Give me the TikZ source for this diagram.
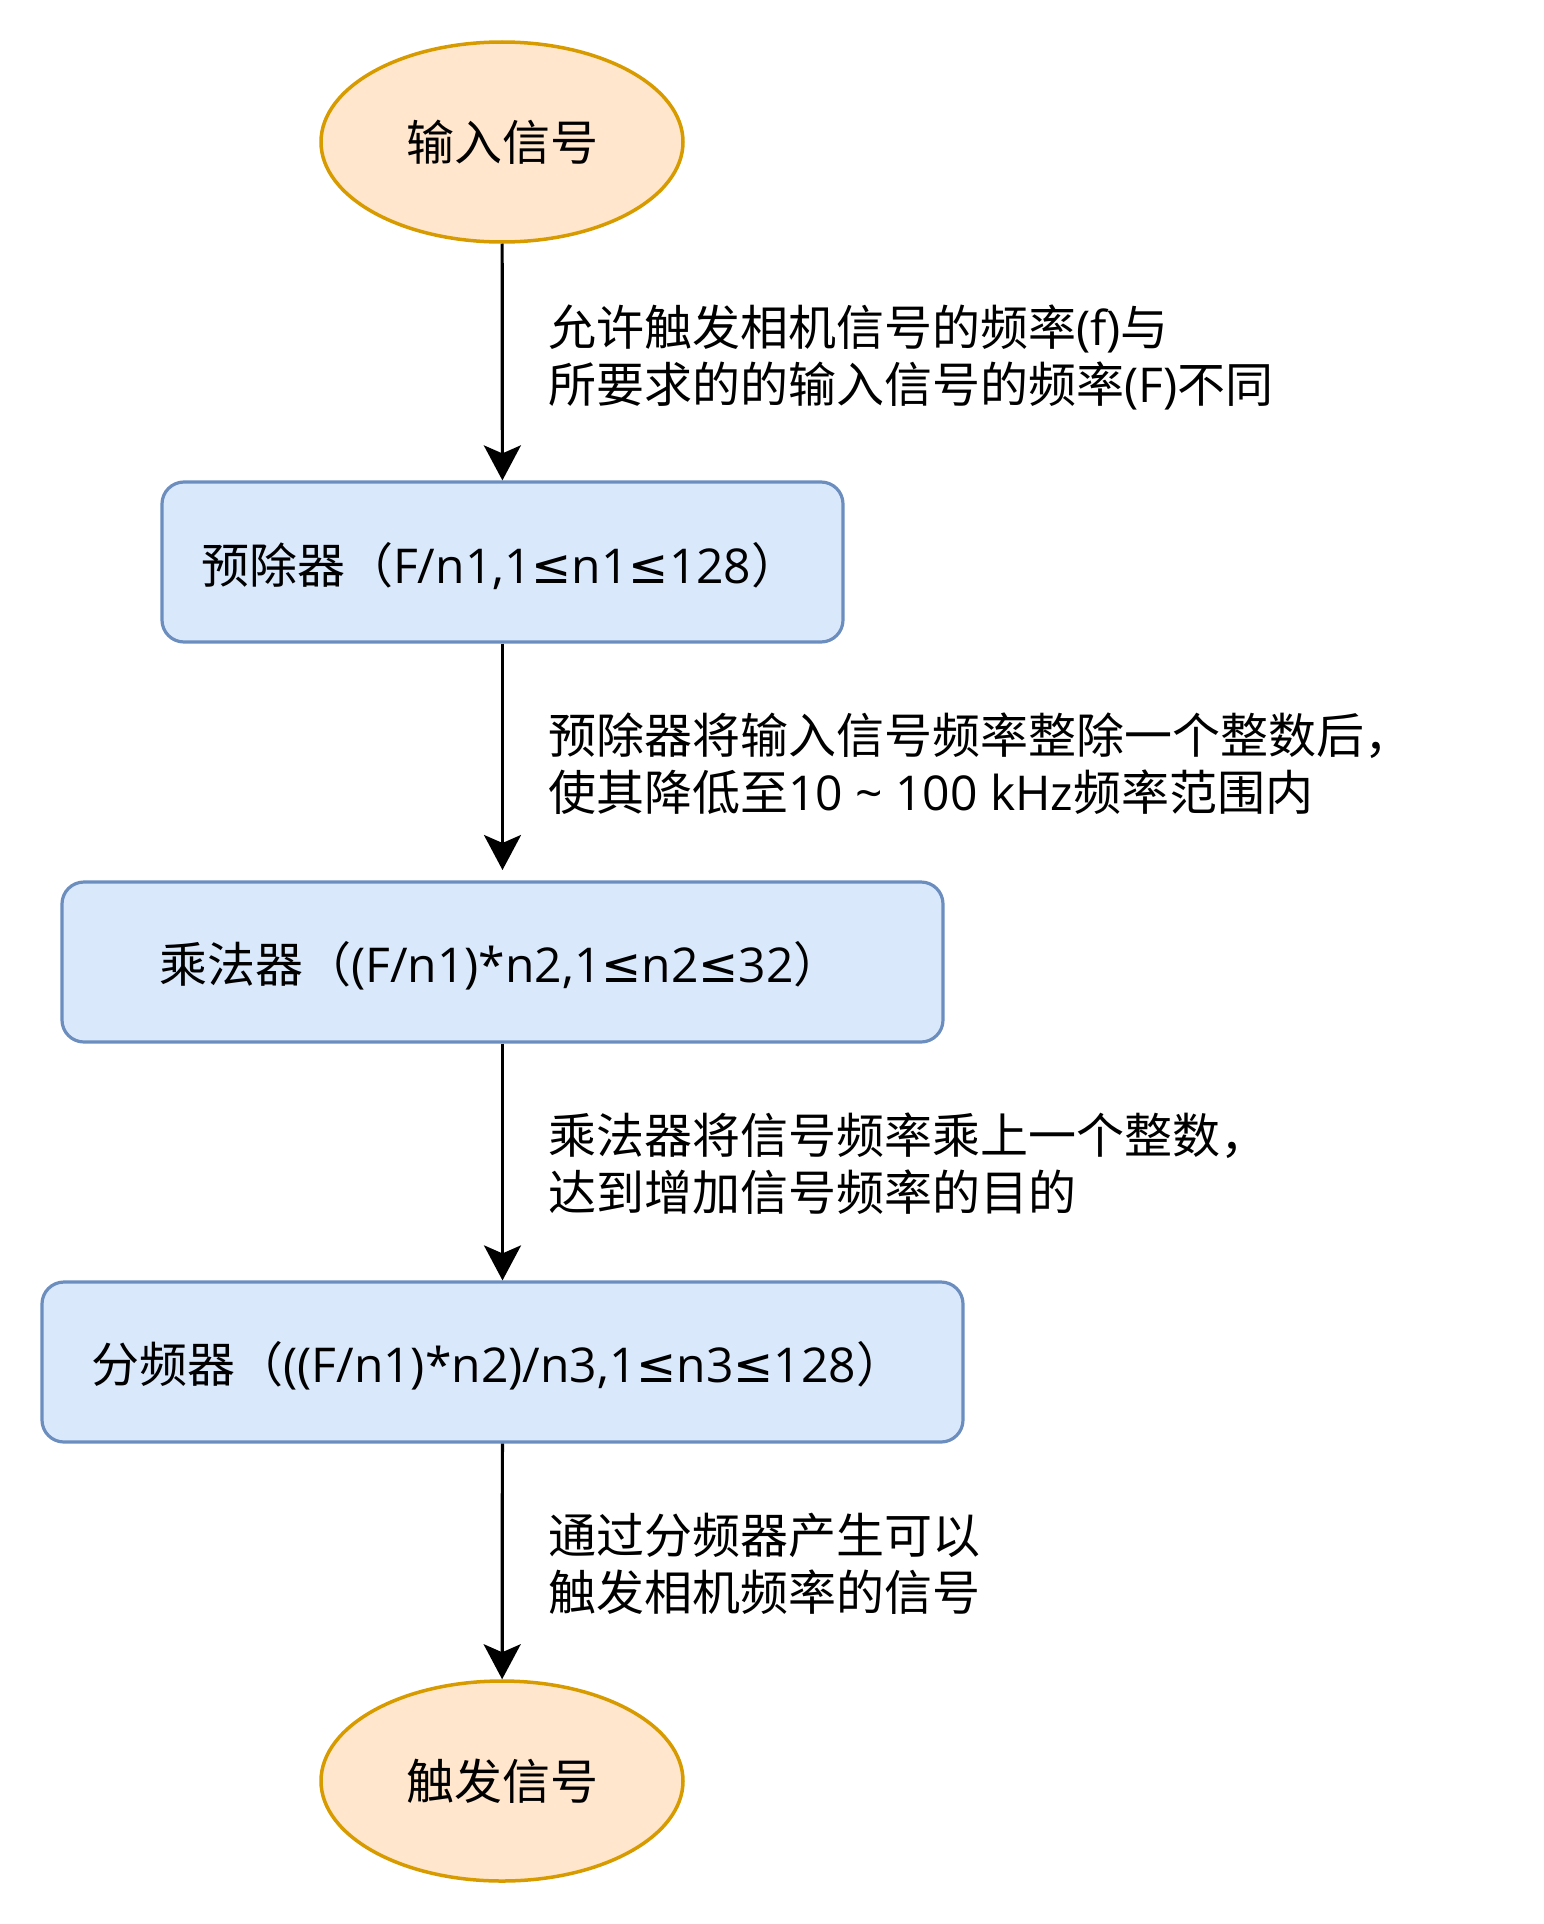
\documentclass[tikz,border=0pt]{standalone}
\usepackage{fontspec}
\setmainfont{Noto Sans CJK SC}
\newfontfamily\latinfont{Open Sans}
\newfontfamily\symfont{DejaVu Sans}
\newcommand\latn[1]{{\latinfont #1}}
\newcommand\lesym{{\symfont ≤}}
\usetikzlibrary{shapes.geometric,arrows.meta}
\definecolor{termfill}{HTML}{FFE6CC}
\definecolor{termdraw}{HTML}{D79B00}
\definecolor{boxfill}{HTML}{DAE8FC}
\definecolor{boxdraw}{HTML}{6C8EBF}
\begin{document}
\begin{tikzpicture}[x=1pt,y=-1pt,
  term/.style={ellipse,draw=termdraw,fill=termfill,line width=3.5pt,minimum width=362pt,minimum height=200pt,inner sep=0pt,font=\fontsize{48}{57}\selectfont},
  procbox/.style={rectangle,rounded corners=22pt,draw=boxdraw,fill=boxfill,line width=3.2pt,minimum height=160pt,inner sep=0pt},
  boxtext/.style={anchor=west,inner sep=0pt,font=\fontsize{48}{57}\selectfont},
  lbl/.style={anchor=west,align=left,inner sep=0pt,font=\fontsize{48}{57}\selectfont},
  arr/.style={draw=black,line width=3.2pt,-{Stealth[length=35pt,width=37pt,inset=8pt]}}]
\useasboundingbox (0,0) rectangle (1544,1924);
\node[term] (in) at (502,142) {输入信号};
\node[procbox,minimum width=681pt] (b1) at (502.5,562) {};
\node[procbox,minimum width=881pt] (b2) at (502.5,962) {};
\node[procbox,minimum width=921pt] (b3) at (502.5,1362) {};
\node[term] (out) at (502,1781) {触发信号};
\node[boxtext] (t1) at (201,566) {预除器（\latn{F/n1,1}\lesym\latn{n1}\lesym\latn{128}）};
\node[boxtext] (t2) at (159,966) {乘法器（\latn{(F/n1)*n2,1}\lesym\latn{n2}\lesym\latn{32}）};
\node[boxtext] (t3) at (91,1366) {分频器（\latn{((F/n1)*n2)/n3,1}\lesym\latn{n3}\lesym\latn{128}）};
\coordinate (a2end) at (502.5,870);
\draw[arr] (in) -- (b1);
\draw[arr] (b1) -- (a2end);
\draw[arr] (b2) -- (b3);
\draw[arr] (b3) -- (out);
\node[lbl] (l1) at (548,357) {允许触发相机信号的频率\latn{(f)}与\\所要求的的输入信号的频率\latn{(F)}不同};
\node[lbl] (l2) at (548,764) {预除器将输入信号频率整除一个整数后，\\使其降低至\latn{10 \textasciitilde\ 100 kHz}频率范围内};
\node[lbl] (l3) at (548,1164) {乘法器将信号频率乘上一个整数，\\达到增加信号频率的目的};
\node[lbl] (l4) at (548,1564) {通过分频器产生可以\\触发相机频率的信号};
\end{tikzpicture}
\end{document}
